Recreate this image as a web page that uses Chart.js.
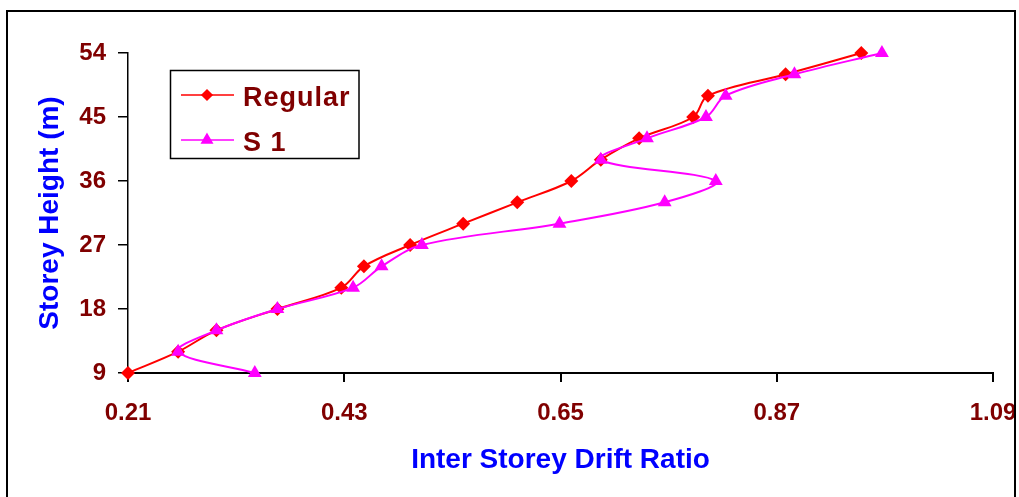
<!DOCTYPE html>
<html>
<head>
<meta charset="utf-8">
<script src="https://cdn.jsdelivr.net/npm/chart.js@4.4.1/dist/chart.umd.min.js"></script>
<style>
  html, body { margin: 0; padding: 0; background: #fff; }
  canvas { display: block; }
</style>
</head>
<body>
<canvas id="drift" width="1019" height="497"></canvas>
<script>
// storey heights (m) and inter storey drift ratios
const storeyHeights = [9, 12, 15, 18, 21, 24, 27, 30, 33, 36, 39, 42, 45, 48, 51, 54];
const regularDrift = [0.21, 0.261, 0.300, 0.362, 0.427, 0.450, 0.497, 0.551, 0.606, 0.661, 0.691, 0.730, 0.785, 0.800, 0.879, 0.956];
const s1Drift = [0.339, 0.261, 0.300, 0.362, 0.439, 0.468, 0.509, 0.649, 0.756, 0.808, 0.691, 0.738, 0.798, 0.818, 0.888, 0.977];

const xTicks = [0.21, 0.43, 0.65, 0.87, 1.09];
const xTickLabels = ['0.21', '0.43', '0.65', '0.87', '1.09'];
const yTicks = [9, 18, 27, 36, 45, 54];
const yTickLabels = ['9', '18', '27', '36', '45', '54'];

const FONT = "'Liberation Sans', Arial, sans-serif";
const DARK_RED = '#800000';

function toPoints(xs) {
    return xs.map((x, i) => ({ x: x, y: storeyHeights[i] }));
}

// white page + outer frame (Excel chart area border)
const frame = {
    id: 'frame',
    beforeDraw(chart) {
        const ctx = chart.ctx;
        ctx.save();
        ctx.fillStyle = '#fff';
        ctx.fillRect(0, 0, chart.width, chart.height);
        ctx.restore();
    },
    afterDraw(chart) {
        const ctx = chart.ctx;
        ctx.save();
        ctx.strokeStyle = '#000';
        ctx.lineWidth = 2;
        ctx.strokeRect(7, 11, 1008, 520); // bottom edge runs off the picture
        ctx.restore();
    }
};

// boxed legend with line + marker samples
const legendBox = {
    id: 'legendBox',
    afterDraw(chart) {
        const ctx = chart.ctx;
        ctx.save();
        ctx.strokeStyle = '#000';
        ctx.lineWidth = 1.5;
        ctx.strokeRect(170.5, 70.5, 188.5, 88);

        const rows = [
            { label: 'Regular', color: '#ff0000', style: 'rectRot', r: 5, y: 95 },
            { label: 'S 1', color: '#ff00ff', style: 'triangle', r: 6, y: 140 }
        ];
        rows.forEach(row => {
            ctx.strokeStyle = row.color;
            ctx.lineWidth = 1.5;
            ctx.beginPath();
            ctx.moveTo(181, row.y);
            ctx.lineTo(234, row.y);
            ctx.stroke();
            ctx.fillStyle = row.color;
            Chart.helpers.drawPoint(ctx, { pointStyle: row.style, radius: row.r, borderWidth: 1 }, 207, row.y);

            ctx.fillStyle = DARK_RED;
            ctx.font = 'bold 27px ' + FONT;
            ctx.letterSpacing = '1px';
            ctx.textBaseline = 'alphabetic';
            ctx.textAlign = 'left';
            ctx.fillText(row.label, 243, row.y + 11);
        });
        ctx.restore();
    }
};

new Chart(document.getElementById('drift'), {
    type: 'scatter',
    data: {
        datasets: [
            {
                label: 'Regular',
                data: toPoints(regularDrift),
                showLine: true,
                borderColor: '#ff0000',
                backgroundColor: '#ff0000',
                borderWidth: 2,
                tension: 0.35,
                pointStyle: 'rectRot',
                pointRadius: 7,
                pointBorderWidth: 0,
                order: 1
            },
            {
                label: 'S 1',
                data: toPoints(s1Drift),
                showLine: true,
                borderColor: '#ff00ff',
                backgroundColor: '#ff00ff',
                borderWidth: 2,
                tension: 0.35,
                pointStyle: 'triangle',
                pointRadius: 8,
                pointBorderWidth: 0,
                order: 0
            }
        ]
    },
    options: {
        responsive: false,
        animation: false,
        clip: false,
        layout: { padding: { left: 0, top: 53, right: 26, bottom: 0 } },
        plugins: {
            legend: { display: false },
            tooltip: { enabled: false }
        },
        scales: {
            x: {
                type: 'linear',
                min: 0.21,
                max: 1.09,
                afterBuildTicks: s => { s.ticks = xTicks.map(v => ({ value: v })); },
                afterFit: s => {
                    s.height = 124;
                    s.paddingLeft = 0;  // the frame clips the last label, like the original
                    s.paddingRight = 0;
                },
                ticks: {
                    callback: (v, i) => xTickLabels[i],
                    color: DARK_RED,
                    font: { family: FONT, size: 24, weight: 'bold' },
                    padding: 17,
                    maxRotation: 0,
                    autoSkip: false
                },
                grid: { drawOnChartArea: false, drawTicks: true, tickLength: 9, color: '#000', lineWidth: 2 },
                border: { display: true, color: '#000', width: 2 },
                title: {
                    display: true,
                    text: 'Inter Storey Drift Ratio',
                    color: '#0000ff',
                    font: { family: FONT, size: 28, weight: 'bold', lineHeight: 1.2 },
                    padding: { top: 0, bottom: 20 }
                }
            },
            y: {
                type: 'linear',
                min: 9,
                max: 54,
                afterBuildTicks: s => { s.ticks = yTicks.map(v => ({ value: v })); },
                afterFit: s => { s.width = 128; },
                ticks: {
                    callback: (v, i) => yTickLabels[i],
                    color: DARK_RED,
                    font: { family: FONT, size: 24, weight: 'bold' },
                    padding: 12,
                    autoSkip: false
                },
                grid: { drawOnChartArea: false, drawTicks: true, tickLength: 10, color: '#000', lineWidth: 1.5 },
                border: { display: true, color: '#000', width: 1.5 },
                title: {
                    display: true,
                    text: 'Storey Height (m)',
                    color: '#0000ff',
                    font: { family: FONT, size: 28, weight: 'bold', lineHeight: 1.2 },
                    padding: { top: 33, bottom: 0 }
                }
            }
        }
    },
    plugins: [frame, legendBox]
});
</script>
</body>
</html>
